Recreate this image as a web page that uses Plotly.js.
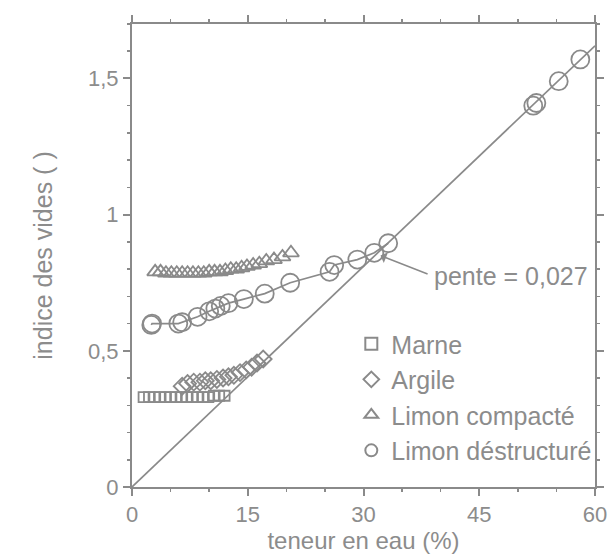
<!DOCTYPE html>
<html>
<head>
<meta charset="utf-8">
<script src="https://cdn.plot.ly/plotly-3.0.1.min.js"></script>
<style>html,body{margin:0;padding:0;background:#fff;}#chart{width:611px;height:555px;}</style>
</head>
<body>
<div id="chart"></div>
<script>
// ---- data ----
const marneX = [1.5, 2.2, 2.9, 3.6, 4.3, 5.0, 5.7, 6.4, 7.1, 7.8, 8.5, 9.2, 9.9, 10.6, 11.3, 12.0];
const marneY = [0.33, 0.33, 0.33, 0.33, 0.33, 0.33, 0.33, 0.33, 0.33, 0.33, 0.33, 0.33, 0.33, 0.335, 0.335, 0.335];

const argileX = [6.5, 7.2, 8.0, 8.8, 9.5, 10.2, 11.0, 11.8, 12.5, 13.2, 14.0, 14.8, 15.5, 16.2, 17.0];
const argileY = [0.37, 0.38, 0.385, 0.385, 0.39, 0.39, 0.395, 0.40, 0.405, 0.41, 0.42, 0.43, 0.44, 0.455, 0.47];

const compacteX = [3.0, 3.7, 4.4, 5.1, 5.8, 6.5, 7.2, 7.9, 8.6, 9.3, 10.0, 10.7, 11.4, 12.1, 12.8, 13.5, 14.2, 14.9, 15.7, 16.5, 17.4, 18.4, 19.5, 20.6];
const compacteY = [0.79, 0.79, 0.785, 0.785, 0.785, 0.785, 0.785, 0.785, 0.785, 0.785, 0.79, 0.79, 0.79, 0.795, 0.80, 0.80, 0.805, 0.81, 0.815, 0.82, 0.83, 0.835, 0.845, 0.86];

const destructX = [2.5, 2.6, 6.0, 6.5, 8.5, 10.0, 10.8, 11.5, 12.5, 14.5, 17.2, 20.5, 25.6, 26.2, 29.2, 31.4, 33.2, 52.0, 52.4, 55.3, 58.1];
const destructY = [0.595, 0.60, 0.60, 0.605, 0.625, 0.645, 0.655, 0.665, 0.675, 0.69, 0.71, 0.75, 0.79, 0.815, 0.835, 0.86, 0.895, 1.40, 1.41, 1.49, 1.57];

const penteX = [0, 60];
const penteY = [0, 1.62];

const xTicks = [0, 15, 30, 45, 60];
const yTicks = [0, 0.5, 1, 1.5];

const gray = '#8c8c8c';
const lineGray = '#8a8a8a';
const FONT = 'Liberation Sans, Arial, sans-serif';

const traces = [
  {x: penteX, y: penteY, mode: 'lines', line: {color: lineGray, width: 1.7}, showlegend: false, hoverinfo: 'skip'},
  {x: destructX.slice(0, 17), y: destructY.slice(0, 17), mode: 'lines', line: {color: lineGray, width: 1.7}, showlegend: false, hoverinfo: 'skip'},
  {x: marneX, y: marneY, mode: 'markers', name: 'Marne',
   marker: {symbol: 'square-open', size: 10, color: lineGray, line: {width: 1.8, color: lineGray}}},
  {x: argileX, y: argileY, mode: 'markers', name: 'Argile',
   marker: {symbol: 'diamond-open', size: 13, color: lineGray, line: {width: 1.8, color: lineGray}}},
  {x: compacteX, y: compacteY, mode: 'markers', name: 'Limon compacté',
   marker: {symbol: 'triangle-up-open', size: 14, color: lineGray, line: {width: 1.8, color: lineGray}}},
  {x: destructX, y: destructY, mode: 'markers', name: 'Limon déstructuré',
   marker: {symbol: 'circle-open', size: 18, color: lineGray, line: {width: 1.8, color: lineGray}}}
];

const layout = {
  width: 611, height: 555,
  margin: {l: 132, r: 16, t: 24, b: 68, autoexpand: false},
  paper_bgcolor: '#fff', plot_bgcolor: '#fff',
  separators: ', ',
  font: {family: FONT, color: gray, size: 22},
  showlegend: true,
  legend: {x: 1.005, y: 0.03, xanchor: 'right', yanchor: 'bottom', bgcolor: 'rgba(0,0,0,0)',
           font: {size: 25, color: gray}, itemsizing: 'constant', tracegroupgap: 0, itemwidth: 30},
  xaxis: {
    range: [0, 60], tickvals: xTicks, ticktext: xTicks.map(String),
    showline: true, linecolor: lineGray, linewidth: 2, mirror: 'ticks',
    ticks: 'outside', ticklen: 7, tickwidth: 2, tickcolor: lineGray,
    minor: {dtick: 5, tick0: 0, ticks: 'outside', ticklen: 3, tickwidth: 1.5, tickcolor: lineGray},
    showgrid: false, zeroline: false, automargin: false,
    tickfont: {size: 22, color: gray},
    title: {text: 'teneur en eau (%)', font: {size: 24, color: gray}, standoff: 4}
  },
  yaxis: {
    range: [0, 1.70], tickvals: yTicks,
    showline: true, linecolor: lineGray, linewidth: 2, mirror: 'ticks',
    ticks: 'outside', ticklen: 7, tickwidth: 2, tickcolor: lineGray,
    minor: {dtick: 0.1, tick0: 0, ticks: 'outside', ticklen: 3, tickwidth: 1.5, tickcolor: lineGray},
    showgrid: false, zeroline: false, automargin: false,
    tickfont: {size: 22, color: gray},
    title: {text: 'indice des vides ( )', font: {size: 25, color: gray}, standoff: 28}
  },
  annotations: [{
    x: 32.2, y: 0.85, xref: 'x', yref: 'y',
    ax: 38.5, ay: 0.78, axref: 'x', ayref: 'y',
    showarrow: true, arrowhead: 1, arrowsize: 1.3, arrowwidth: 1.5, arrowcolor: lineGray,
    text: ''
  }, {
    x: 38.9, y: 0.775, xref: 'x', yref: 'y', xanchor: 'left', yanchor: 'middle',
    showarrow: false, text: 'pente = 0,027', font: {size: 25, color: gray}
  }]
};

Plotly.newPlot('chart', traces, layout, {displayModeBar: false, staticPlot: true});
</script>
</body>
</html>
